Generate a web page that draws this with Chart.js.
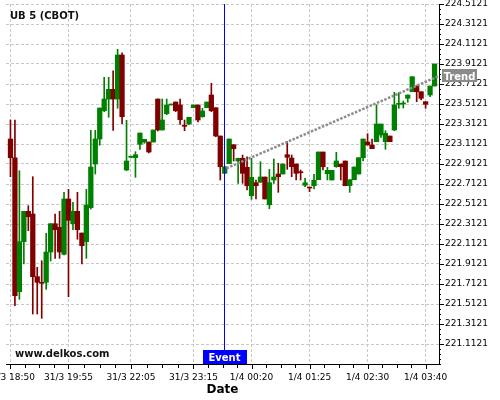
<!DOCTYPE html>
<html><head><meta charset="utf-8">
<script src="https://cdn.jsdelivr.net/npm/chart.js@4.4.1/dist/chart.umd.min.js"></script>
<style>html,body{margin:0;padding:0;background:#fff}canvas{display:block}</style>
</head><body>
<canvas id="c" width="500" height="400"></canvas>
<script>
const opens = [223.162,222.975,221.635,222.135,222.439,222.412,221.785,221.729,221.729,222.032,
222.315,222.279,222.009,222.562,222.315,222.439,222.222,222.135,222.475,222.912,
223.162,223.445,223.562,223.659,223.562,224.002,222.852,222.979,222.975,223.109,
223.132,223.132,223.132,223.562,223.252,223.415,223.502,223.532,223.502,223.295,
223.312,223.475,223.502,223.385,223.475,223.602,223.475,223.192,222.819,222.915,
223.105,222.942,222.969,222.879,222.595,222.725,222.729,222.782,222.505,222.752,
222.812,222.812,223.005,222.972,222.912,222.832,222.699,222.679,222.695,222.755,
223.032,222.815,222.752,222.885,222.912,222.942,222.695,222.755,222.812,222.975,
223.132,223.102,223.135,223.202,223.135,223.192,223.252,223.509,223.512,223.569,
223.635,223.692,223.635,223.535,223.602,223.692];
const highs = [223.352,223.352,222.845,222.439,222.495,222.785,221.879,221.945,222.219,222.315,
222.412,222.439,222.629,222.659,222.529,222.629,222.222,222.659,223.249,223.249,
223.472,223.779,223.779,223.845,224.059,224.025,223.349,222.992,223.035,223.222,
223.159,223.132,223.252,223.562,223.562,223.562,223.512,223.532,223.562,223.352,
223.379,223.502,223.502,223.469,223.532,223.719,223.475,223.192,222.885,223.162,
223.105,222.972,223.002,222.985,222.969,222.752,222.935,222.782,222.859,222.962,
222.919,222.912,223.135,223.002,222.912,222.852,222.769,222.679,222.809,223.032,
223.032,222.879,222.849,223.029,222.912,222.942,222.755,222.882,222.975,223.162,
223.215,223.162,223.502,223.312,223.245,223.192,223.629,223.625,223.542,223.602,
223.785,223.692,223.635,223.535,223.692,223.912];
const lows = [222.785,221.495,221.559,221.912,222.245,221.412,221.412,221.369,221.659,221.942,
221.969,221.969,222.002,221.585,222.255,222.159,221.912,221.969,222.462,222.812,
223.099,223.435,223.379,223.249,223.469,223.315,222.845,222.972,222.779,223.059,
223.119,223.022,223.132,223.242,223.252,223.405,223.502,223.435,223.309,223.245,
223.305,223.475,223.332,223.379,223.475,223.435,223.185,222.752,222.819,222.915,
222.942,222.719,222.719,222.652,222.559,222.562,222.729,222.562,222.465,222.719,
222.629,222.812,222.859,222.785,222.752,222.752,222.685,222.635,222.662,222.755,
222.852,222.752,222.752,222.879,222.752,222.695,222.629,222.755,222.812,222.942,
223.102,223.065,223.135,223.179,223.059,223.135,223.245,223.469,223.472,223.529,
223.635,223.535,223.552,223.469,223.585,223.692];
const closes = [222.975,221.595,222.135,222.439,222.385,221.785,221.729,221.719,222.032,222.315,
222.255,222.032,222.562,222.349,222.439,222.255,222.095,222.502,222.882,223.162,
223.472,223.562,223.659,223.562,224.002,223.385,222.942,222.982,223.005,223.222,
223.159,223.032,223.252,223.252,223.352,223.502,223.512,223.445,223.355,223.289,
223.379,223.502,223.352,223.442,223.532,223.445,223.192,222.885,222.885,223.162,
223.065,222.969,222.819,222.695,222.779,222.695,222.782,222.562,222.725,222.782,
222.785,222.912,222.979,222.885,222.819,222.825,222.725,222.672,222.749,223.032,
222.885,222.849,222.849,222.942,222.885,222.695,222.755,222.882,222.975,223.162,
223.102,223.065,223.312,223.312,223.219,223.135,223.502,223.519,223.519,223.602,
223.785,223.635,223.569,223.509,223.692,223.912];

const xTickIndex = [0, 13, 27, 41, 54, 67, 80, 93];
const xTickLabels = ['31/3 18:50','31/3 19:55','31/3 22:05','31/3 23:15','1/4 00:20','1/4 01:25','1/4 02:30','1/4 03:40'];
const yTickValues = [221.1121,221.3121,221.5121,221.7121,221.9121,222.1121,222.3121,222.5121,222.7121,
222.9121,223.1121,223.3121,223.5121,223.7121,223.9121,224.1121,224.3121,224.5121];
const yMin = 220.9121, yMax = 224.5121;
const trendPoints = [{x: 48.4, y: 222.869}, {x: 96, y: 223.792}];
const eventIndex = 47.8;

const UP = '#008000', DOWN = '#800000';
const colors = opens.map((o, i) => closes[i] >= o ? UP : DOWN);
const bodyData = opens.map((o, i) => ({x: i, y: [o, closes[i]]}));
const wickData = opens.map((o, i) => ({x: i, y: [lows[i], highs[i]]}));

Chart.defaults.font.family = '"DejaVu Sans", sans-serif';
Chart.defaults.color = '#000';

const decor = {
  id: 'decor',
  afterDatasetsDraw(chart) {
    const {ctx, chartArea: a, scales: {x}} = chart;
    ctx.save();
    const ex = Math.round(x.getPixelForValue(eventIndex)) + 0.5;
    ctx.strokeStyle = '#0000ff'; ctx.lineWidth = 1;
    ctx.beginPath(); ctx.moveTo(ex, a.top); ctx.lineTo(ex, a.bottom); ctx.stroke();
    ctx.fillStyle = '#0000ff';
    ctx.fillRect(Math.round(ex) - 22, a.bottom - 14, 44, 14);
    ctx.fillStyle = '#ffffff';
    ctx.font = 'bold 10px "DejaVu Sans"';
    ctx.textAlign = 'center'; ctx.textBaseline = 'alphabetic';
    ctx.fillText('Event', ex, a.bottom - 3.3);
    ctx.fillStyle = '#111';
    ctx.textAlign = 'left';
    ctx.fillText('UB 5 (CBOT)', 10, 19.3);
    ctx.fillText('www.delkos.com', 15, a.bottom - 7.3);
    ctx.restore();
  },
  afterDraw(chart) {
    const {ctx, chartArea: a, scales: {x, y}} = chart;
    ctx.save();
    ctx.strokeStyle = '#000'; ctx.lineWidth = 1;
    ctx.beginPath();
    for (let k = 0; k < xTickIndex.length; k++) {
      const px = Math.round(x.getPixelForValue(xTickIndex[k])) + 0.5;
      ctx.moveTo(px, a.bottom); ctx.lineTo(px, a.bottom + 5);
      if (k < xTickIndex.length - 1) {
        const step = (xTickIndex[k + 1] - xTickIndex[k]) / 4;
        for (let q = 1; q < 4; q++) {
          const mp = Math.round(x.getPixelForValue(xTickIndex[k] + q * step)) + 0.5;
          ctx.moveTo(mp, a.bottom); ctx.lineTo(mp, a.bottom + 4);
        }
      }
    }
    for (let j = 0; j <= 72; j++) {
      const v = yMin + j * 0.05;
      const py = Math.round(y.getPixelForValue(v)) + 0.5;
      const major = j % 4 === 0 && j > 0;
      ctx.moveTo(a.right, py); ctx.lineTo(a.right + (major ? 5 : 2), py);
    }
    ctx.stroke();
    const py = y.getPixelForValue(trendPoints[1].y);
    ctx.fillStyle = '#8a8a8a';
    ctx.fillRect(a.right + 3, Math.round(py) - 7, 35, 13);
    ctx.fillStyle = '#fff';
    ctx.font = 'bold 10px "DejaVu Sans"';
    ctx.textAlign = 'center'; ctx.textBaseline = 'alphabetic';
    ctx.fillText('Trend', a.right + 20.5, Math.round(py) + 3.5);
    ctx.restore();
  }
};

new Chart(document.getElementById('c'), {
  type: 'bar',
  data: {
    datasets: [
      {label: 'wick', data: wickData, backgroundColor: colors, borderWidth: 0, barThickness: 1, grouped: false, order: 2},
      {label: 'body', data: bodyData, backgroundColor: colors, borderWidth: 0, barThickness: 4.6, minBarLength: 1, grouped: false, order: 1},
      {type: 'line', label: 'trend', data: trendPoints, borderColor: '#8c8c8c', borderWidth: 2.5, borderDash: [2.5, 1.5], pointRadius: 0, fill: false, order: 0}
    ]
  },
  options: {
    responsive: false,
    animation: false,
    events: [],
    layout: {padding: {left: 6, top: 4, right: 0, bottom: 0}},
    plugins: {legend: {display: false}, tooltip: {enabled: false}, title: {display: false}},
    scales: {
      x: {
        type: 'linear', min: -1, max: 96, offset: false,
        grid: {offset: false, color: '#c8c8c8', drawTicks: false, lineWidth: 1},
        border: {display: true, color: '#000', width: 1, dash: [3, 2]},
        afterBuildTicks: s => { s.ticks = xTickIndex.map(v => ({value: v})); },
        afterFit: s => { s.height = 36; s.paddingLeft = 0; s.paddingRight = 0; },
        ticks: {autoSkip: false, maxRotation: 0, minRotation: 0, padding: 8, font: {size: 9},
          callback: (v, i) => xTickLabels[i]},
        title: {display: true, text: 'Date', font: {size: 12, weight: 'bold'}, padding: {top: 0, bottom: 3}}
      },
      y: {
        position: 'right', min: yMin, max: yMax, beginAtZero: false,
        grid: {color: '#c8c8c8', drawTicks: false, lineWidth: 1},
        border: {display: true, color: '#000', width: 1, dash: [3, 2]},
        afterBuildTicks: s => { s.ticks = yTickValues.map(v => ({value: v})); },
        afterFit: s => { s.width = 61; s.paddingTop = 0; s.paddingBottom = 0; },
        ticks: {padding: 6, font: {size: 9}, callback: v => v.toFixed(4)}
      }
    }
  },
  plugins: [decor]
});
</script>
</body></html>
